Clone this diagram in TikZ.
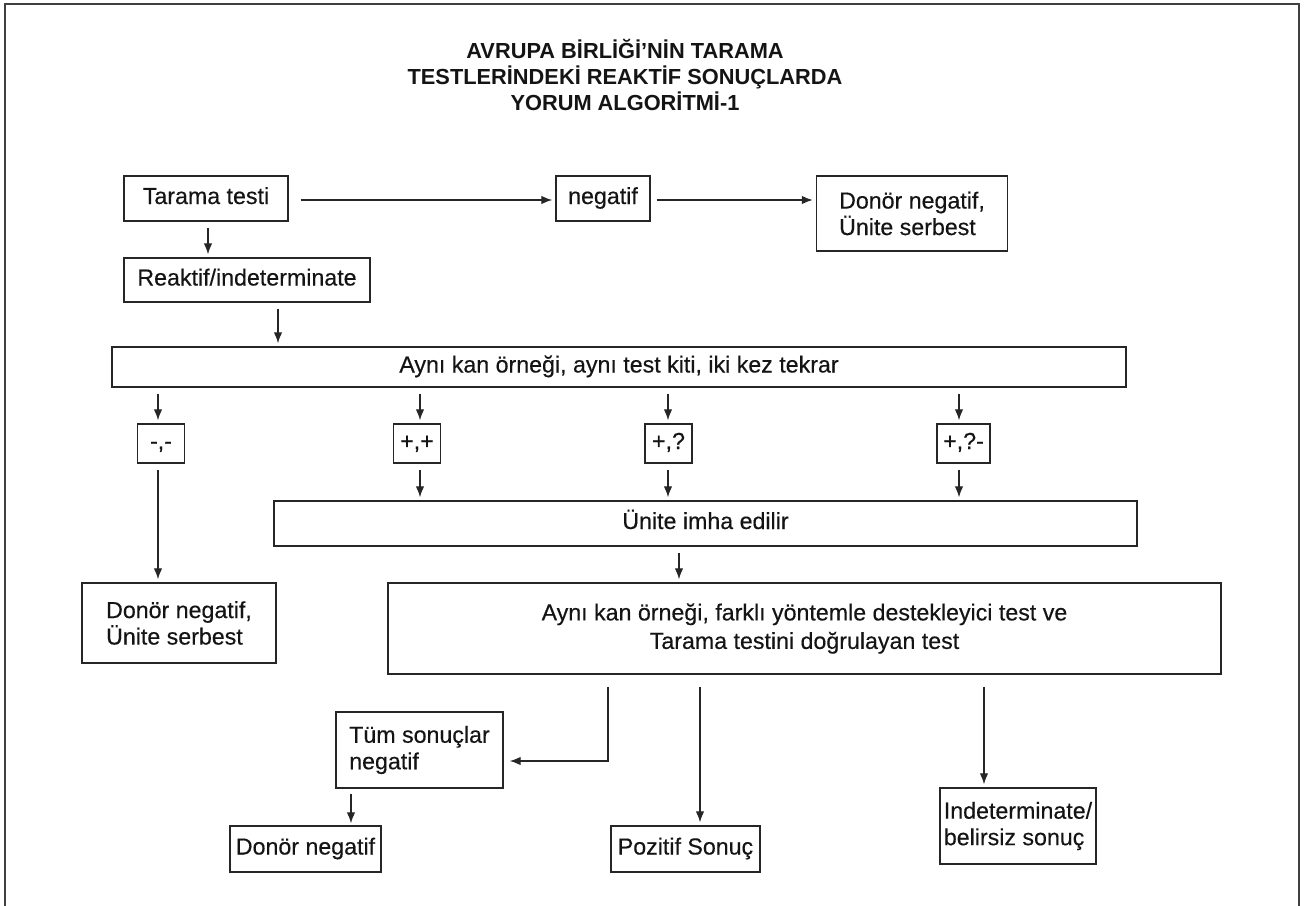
\documentclass[tikz,border=0pt]{standalone}
\usepackage{fontspec}
\setmainfont{Liberation Sans}
\newfontfamily\bodyfont{Liberation Sans}[FakeBold=0.35]
\usetikzlibrary{arrows.meta,calc}
\begin{document}
\begin{tikzpicture}[x=1pt,y=-1pt,
  box/.style={draw=black!85, line width=1.4pt, inner sep=0pt, font=\bodyfont\fontsize{23.2}{26.5}\selectfont, text=black!92},
  one/.style={text height=17pt, text depth=6pt},
  arr/.style={draw=black!85, line width=1.3pt, -{Latex[length=11pt,width=8.5pt]}, shorten <=6pt, shorten >=3pt}]
\useasboundingbox (0,0) rectangle (1306,905);
\draw[line width=2.2pt, draw=black!75] (5,915) -- (5,4) -- (1299,4) -- (1299,915);

\node[font=\bfseries\fontsize{21.8}{26}\selectfont, align=center, text=black!92] (title) at (625,75)
  {AVRUPA BİRLİĞİ’NİN TARAMA\\TESTLERİNDEKİ REAKTİF SONUÇLARDA\\YORUM ALGORİTMİ-1};

\node[box, one, minimum width=164pt, minimum height=45pt] (tarama) at (206,198.5) {Tarama testi};
\node[box, one, minimum width=94pt, minimum height=45pt] (neg) at (603,198.5) {negatif};
\node[box, minimum width=191pt, minimum height=75pt, align=left] (donor1) at (912,213.5) {Donör negatif,\\Ünite serbest};
\node[box, one, minimum width=246pt, minimum height=44pt] (reaktif) at (247,280) {Reaktif/indeterminate};
\node[box, one, minimum width=1014pt, minimum height=40pt] (ayni) at (619,367) {Aynı kan örneği, aynı test kiti, iki kez tekrar};

\node[box, one, minimum width=47pt, minimum height=39pt] (mm) at (161,443.5) {-,-};
\node[box, one, minimum width=47pt, minimum height=39pt] (pp) at (417,443.5) {+,+};
\node[box, one, minimum width=47pt, minimum height=39pt] (pq) at (668.5,443.5) {+,?};
\node[box, one, minimum width=53pt, minimum height=39pt] (pqm) at (963.5,443.5) {+,?-};

\node[box, one, minimum width=863pt, minimum height=45pt] (unite) at (705.5,523.5) {Ünite imha edilir};
\node[box, minimum width=194pt, minimum height=80pt, align=left] (donor2) at (179,623) {Donör negatif,\\Ünite serbest};
\node[box, minimum width=833pt, minimum height=91pt, align=center, font=\bodyfont\fontsize{23.2}{28.5}\selectfont] (farkli) at (804.5,628.5)
  {Aynı kan örneği, farklı yöntemle destekleyici test ve\\Tarama testini doğrulayan test};

\node[box, minimum width=167pt, minimum height=76pt, align=left] (tum) at (419.5,750) {Tüm sonuçlar\\negatif};
\node[box, one, minimum width=151pt, minimum height=46pt] (donor3) at (305.5,849) {Donör negatif};
\node[box, one, minimum width=149pt, minimum height=46pt] (poz) at (685.5,849) {Pozitif Sonuç};
\node[box, minimum width=156pt, minimum height=76pt, align=left] (indet) at (1018,826) {Indeterminate/\\belirsiz sonuç};

\coordinate (xa) at (208,0);
\coordinate (xb) at (278,0);
\coordinate (xm) at (158,0);
\coordinate (xp) at (420,0);
\coordinate (xq) at (668,0);
\coordinate (xr) at (959,0);
\coordinate (xu) at (679,0);
\coordinate (corner) at (608,761);
\coordinate (xz) at (700,0);
\coordinate (xi) at (984,0);
\coordinate (xt) at (351,0);
\coordinate (yh) at (0,200);

\draw[arr, shorten <=12pt] (tarama.east |- yh) -- (neg.west |- yh);
\draw[arr] (neg.east |- yh) -- (donor1.west |- yh);
\draw[arr] (tarama.south -| xa) -- (reaktif.north -| xa);
\draw[arr] (reaktif.south -| xb) -- (ayni.north -| xb);

\draw[arr] (ayni.south -| xm) -- (mm.north -| xm);
\draw[arr] (ayni.south -| xp) -- (pp.north -| xp);
\draw[arr] (ayni.south -| xq) -- (pq.north -| xq);
\draw[arr] (ayni.south -| xr) -- (pqm.north -| xr);

\draw[arr] (mm.south -| xm) -- (donor2.north -| xm);
\draw[arr] (pp.south -| xp) -- (unite.north -| xp);
\draw[arr] (pq.south -| xq) -- (unite.north -| xq);
\draw[arr] (pqm.south -| xr) -- (unite.north -| xr);

\draw[arr] (unite.south -| xu) -- (farkli.north -| xu);

\draw[arr, shorten <=12pt, shorten >=6pt] (farkli.south -| corner) -- (corner) -- (tum.east |- corner);
\draw[arr, shorten <=12pt] (farkli.south -| xz) -- (poz.north -| xz);
\draw[arr, shorten <=12pt] (farkli.south -| xi) -- (indet.north -| xi);
\draw[arr, shorten <=5pt, shorten >=2pt] (tum.south -| xt) -- (donor3.north -| xt);
\end{tikzpicture}
\end{document}
